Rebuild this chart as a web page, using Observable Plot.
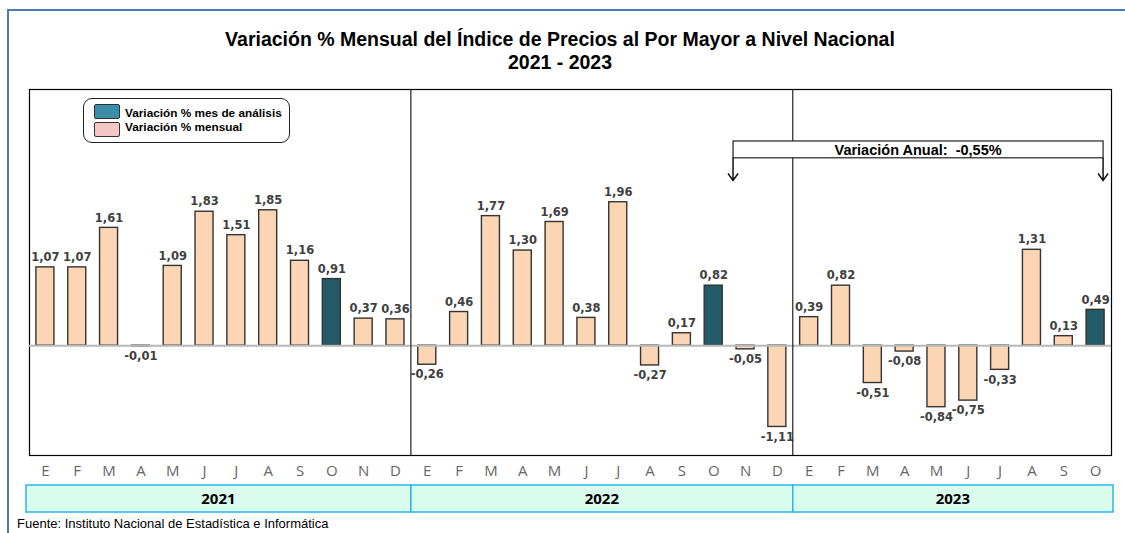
<!DOCTYPE html>
<html><head><meta charset="utf-8">
<script src="https://cdn.jsdelivr.net/npm/d3@7"></script>
<script src="https://cdn.jsdelivr.net/npm/@observablehq/plot@0.6"></script>
<style>
body{margin:0;background:#fff;font-family:"Liberation Sans",Arial,sans-serif;}
#page{position:relative;width:1125px;height:533px;overflow:hidden;background:#fff;}
#border{position:absolute;left:7px;top:9px;width:1140px;height:560px;border-top:2px solid #4e79b4;border-left:2px solid #4e79b4;}
#title{position:absolute;left:0;top:28px;width:1120px;text-align:center;font-weight:bold;font-size:19.5px;line-height:23px;color:#000;}
#chart{position:absolute;left:0;top:80px;}
#legend{position:absolute;left:83px;top:98px;width:205px;height:43px;border:1px solid #222;border-radius:9px;background:#fff;}
.sw{position:absolute;left:10px;width:24px;height:13px;border:1px solid #333;border-radius:2px;}
.lt{position:absolute;left:41px;font-size:11.8px;font-weight:bold;color:#000;white-space:nowrap;line-height:13px;}
#caption{position:absolute;left:17px;top:516px;font-size:13px;color:#000;white-space:nowrap;}
</style></head>
<body><div id="page">
<div id="border"></div>
<div id="title"></div>
<div id="chart"></div>
<div id="legend"></div>
<div id="caption"></div>
</div>
<script>
const years = ["2021", "2022", "2023"];
const monthLetters = ["E","F","M","A","M","J","J","A","S","O","N","D"];
const values2021 = [1.07, 1.07, 1.61, -0.01, 1.09, 1.83, 1.51, 1.85, 1.16, 0.91, 0.37, 0.36];
const values2022 = [-0.26, 0.46, 1.77, 1.30, 1.69, 0.38, 1.96, -0.27, 0.17, 0.82, -0.05, -1.11];
const values2023 = [0.39, 0.82, -0.51, -0.08, -0.84, -0.75, -0.33, 1.31, 0.13, 0.49];
const analysisMonthIndex = 9; // "O"
const titleLines = ["Variación % Mensual del Índice de Precios al Por Mayor a Nivel Nacional", "2021 - 2023"];
const legendLabels = ["Variación % mes de análisis", "Variación % mensual"];
const annualLabel = "Variación Anual:  -0,55%";
const annualFrom = "2022-10"; // N 2022
const annualTo = "2023-9";    // O 2023
const captionText = "Fuente: Instituto Nacional de Estadística e Informática";

const colBar = "#fcd5b4", colHi = "#225a68", colLegHi = "#3a8ea8", colLegBar = "#f5c6c6";

const seriesByYear = [values2021, values2022, values2023];
const rows = [];
seriesByYear.forEach((vals, yi) => vals.forEach((v, i) => rows.push({
  key: `${years[yi]}-${i}`, year: years[yi], month: monthLetters[i], value: v, hi: i === analysisMonthIndex
})));
const keys = rows.map(d => d.key);
const monthOf = Object.fromEntries(rows.map(d => [d.key, d.month]));
const fmt = v => v.toFixed(2).replace(".", ",");

document.getElementById("title").innerHTML = titleLines.join("<br>");
document.getElementById("caption").textContent = captionText;
document.getElementById("legend").innerHTML =
  `<div class="sw" style="top:5px;background:${colLegHi}"></div><div class="lt" style="top:8px">${legendLabels[0]}</div>` +
  `<div class="sw" style="top:23px;background:${colLegBar}"></div><div class="lt" style="top:22px">${legendLabels[1]}</div>`;

const barInset = 6.9;
const labelStyle = {fontFamily: "DejaVu Sans", fontWeight: "bold", fontSize: 11.5, fill: "#404040"};
const chart = Plot.plot({
  width: 1125, height: 440,
  marginLeft: 29, marginRight: 14, marginTop: 9, marginBottom: 65,
  x: {domain: keys, padding: 0, round: false, label: null, axis: null},
  y: {domain: [-1.5, 3.5], axis: null},
  style: {fontFamily: "Open Sans", fontSize: "14px", color: "#666", background: "transparent"},
  marks: [
    Plot.axisX({tickFormat: k => monthOf[k], tickSize: 0, tickPadding: 10, fontSize: 15, fill: "#666", label: null}),
    Plot.frame({stroke: "#000", strokeWidth: 1.2}),
    Plot.barY(rows, {x: "key", y: "value", insetLeft: barInset, insetRight: barInset, fill: d => d.hi ? colHi : colBar, stroke: "#333", strokeWidth: 1.4}),
    Plot.ruleY([0], {stroke: "#b8b8b8", strokeWidth: 2}),
    Plot.text(rows.filter(d => d.value >= 0), {x: "key", y: "value", text: d => fmt(d.value), dy: -10, lineAnchor: "middle", ...labelStyle}),
    Plot.text(rows.filter(d => d.value < 0), {x: "key", y: "value", text: d => fmt(d.value), dy: 10, lineAnchor: "middle", ...labelStyle})
  ]
});
document.getElementById("chart").appendChild(chart);

// overlay built from the chart's own scales
const xs = chart.scale("x"), ys = chart.scale("y");
const bw = xs.bandwidth;
const cx = k => xs.apply(k) + bw / 2;
const yTop = ys.apply(3.5), yBot = ys.apply(-1.5);
const svg = d3.select(chart);
const g = svg.append("g");

// year separators
years.slice(1).forEach(y => {
  const x = xs.apply(`${y}-0`);
  g.append("line").attr("x1", x).attr("x2", x).attr("y1", yTop).attr("y2", yBot).attr("stroke", "#222").attr("stroke-width", 1.2);
});

// year boxes
years.forEach((y, yi) => {
  const n = seriesByYear[yi].length;
  const x1 = xs.apply(`${y}-0`) - (yi === 0 ? 3 : 0);
  const x2 = xs.apply(`${y}-${n - 1}`) + bw + (yi === years.length - 1 ? 2 : 0);
  g.append("rect").attr("x", x1).attr("y", yBot + 30).attr("width", x2 - x1).attr("height", 27)
    .attr("fill", "#dafced").attr("stroke", "#29b5ec").attr("stroke-width", 1.5);
  g.append("text").attr("x", (x1 + x2) / 2).attr("y", yBot + 43.5).attr("dy", "0.35em").attr("text-anchor", "middle")
    .attr("font-family", "Open Sans").attr("font-weight", "bold").attr("font-size", 15).attr("fill", "#000").text(y);
});

// annual variation bracket
const ax1 = cx(annualFrom) - 12, ax2 = cx(annualTo) + 8;
const bTop = ys.apply(2.79), bBot = ys.apply(2.56), tip = ys.apply(2.25);
g.append("rect").attr("x", ax1).attr("y", bTop).attr("width", ax2 - ax1).attr("height", bBot - bTop)
  .attr("fill", "#fff").attr("stroke", "#222").attr("stroke-width", 1.2);
g.append("text").attr("x", (ax1 + ax2) / 2).attr("y", (bTop + bBot) / 2).attr("dy", "0.36em").attr("text-anchor", "middle")
  .attr("font-family", "Liberation Sans").attr("font-weight", "bold").attr("font-size", 14.5).attr("fill", "#000").text(annualLabel);
[ax1, ax2].forEach(x => {
  g.append("path").attr("d", `M${x},${bBot}V${tip}M${x - 5},${tip - 7}L${x},${tip}L${x + 5},${tip - 7}`)
    .attr("fill", "none").attr("stroke", "#111").attr("stroke-width", 1.5);
});
</script>
</body></html>
